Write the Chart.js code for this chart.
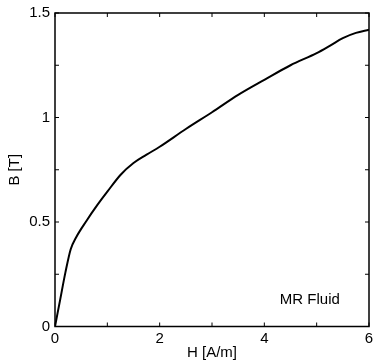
<!DOCTYPE html>
<html>
<head>
<meta charset="utf-8">
<script src="https://cdn.jsdelivr.net/npm/chart.js@4"></script>
<style>
html,body{margin:0;padding:0;background:#fff;}
#wrap{width:373px;height:362px;position:relative;}
</style>
</head>
<body>
<div id="wrap"><canvas id="c" width="373" height="362"></canvas></div>
<script>
const H = [0, 0.1, 0.2, 0.3, 0.4, 0.6, 0.8, 1.0, 1.25, 1.5, 1.75, 2.0, 2.5, 3.0, 3.5, 4.0, 4.5, 5.0, 5.25, 5.5, 5.75, 6.0];
const B = [0, 0.13, 0.26, 0.37, 0.425, 0.505, 0.578, 0.645, 0.725, 0.782, 0.822, 0.86, 0.945, 1.025, 1.108, 1.18, 1.25, 1.308, 1.343, 1.38, 1.405, 1.42];
const xTickLabels = ['0', '2', '4', '6'];
const yTickLabels = ['0', '0.5', '1', '1.5'];
const noteText = 'MR Fluid';
const notePos = {x: 4.87, y: 0.127};

const FONT = 'Liberation Sans, Arial, Helvetica, sans-serif';

const boxPlugin = {
  id: 'box',
  afterDraw(chart) {
    const ctx = chart.ctx;
    const a = chart.chartArea;
    const xs = chart.scales.x, ys = chart.scales.y;
    ctx.save();
    ctx.strokeStyle = '#000';
    ctx.lineWidth = 1.5;
    ctx.strokeRect(a.left, a.top, a.right - a.left, a.bottom - a.top);
    ctx.lineWidth = 1;
    const L = 4;
    xs.ticks.forEach(t => {
      const px = xs.getPixelForValue(t.value);
      ctx.beginPath();
      ctx.moveTo(px, a.bottom); ctx.lineTo(px, a.bottom - L);
      ctx.moveTo(px, a.top); ctx.lineTo(px, a.top + L);
      ctx.stroke();
    });
    ys.ticks.forEach(t => {
      const py = ys.getPixelForValue(t.value);
      ctx.beginPath();
      ctx.moveTo(a.left, py); ctx.lineTo(a.left + L, py);
      ctx.moveTo(a.right, py); ctx.lineTo(a.right - L, py);
      ctx.stroke();
    });
    ctx.fillStyle = '#000';
    ctx.font = '15px ' + FONT;
    ctx.textAlign = 'center';
    ctx.textBaseline = 'middle';
    ctx.fillText(noteText, xs.getPixelForValue(notePos.x), ys.getPixelForValue(notePos.y));
    ctx.restore();
  }
};

new Chart(document.getElementById('c'), {
  type: 'line',
  data: {
    datasets: [{
      data: H.map((h, i) => ({x: h, y: B[i]})),
      borderColor: '#000',
      borderWidth: 2,
      pointRadius: 0,
      fill: false,
      cubicInterpolationMode: 'monotone'
    }]
  },
  options: {
    responsive: false,
    animation: false,
    devicePixelRatio: 1,
    layout: {padding: {top: 13, right: 4, left: 0, bottom: 0}},
    plugins: {legend: {display: false}, tooltip: {enabled: false}},
    scales: {
      x: {
        type: 'linear', min: 0, max: 6,
        grid: {display: false, drawTicks: false},
        border: {display: false},
        ticks: {
          stepSize: 1, padding: 3, color: '#000', maxRotation: 0, autoSkip: false,
          font: {family: FONT, size: 15},
          callback: v => { const s = String(v); return xTickLabels.includes(s) ? s : ''; }
        },
        title: {display: true, text: 'H [A/m]', color: '#000', font: {family: FONT, size: 15}, padding: {top: 0, bottom: 0}},
        afterFit: s => { s.height = 35.5; s.paddingLeft = 0; s.paddingRight = 0; }
      },
      y: {
        type: 'linear', min: 0, max: 1.5,
        grid: {display: false, drawTicks: false},
        border: {display: false},
        ticks: {
          stepSize: 0.25, padding: 5, color: '#000', autoSkip: false,
          font: {family: FONT, size: 15},
          callback: v => { const s = String(v); return yTickLabels.includes(s) ? s : ''; }
        },
        title: {display: true, text: 'B [T]', color: '#000', font: {family: FONT, size: 15}, padding: {top: 6, bottom: 0}},
        afterFit: s => { s.width = 55; s.paddingTop = 0; s.paddingBottom = 0; }
      }
    }
  },
  plugins: [boxPlugin]
});
</script>
</body>
</html>
